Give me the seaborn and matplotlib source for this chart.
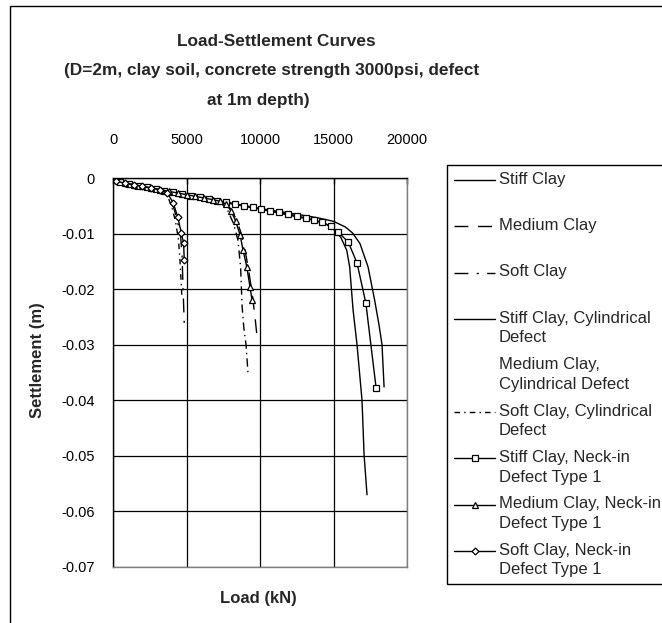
import matplotlib
matplotlib.use("Agg")
import matplotlib.pyplot as plt
from matplotlib.patches import Rectangle
import seaborn as sns
import pandas as pd
import numpy as np

sns.set_style("white")
plt.rcParams['font.family'] = ['Liberation Sans', 'DejaVu Sans']

# ---------------- data (load kN, settlement m) ----------------
stiff_load = [0, 2000, 4000, 6000, 8000, 10000, 12000, 14000, 15000, 15800, 16300, 16800, 17350, 17800, 18100, 18300, 18440]
stiff_set = [-0.0005, -0.0015, -0.0025, -0.0035, -0.0045, -0.0055, -0.0063, -0.0072, -0.0078, -0.0088, -0.0099, -0.0118, -0.0160, -0.0220, -0.0265, -0.0300, -0.0376]

medium_load = [0, 3000, 6000, 7500, 8000, 8400, 8750, 9000, 9250, 9500, 9680, 9800]
medium_set = [-0.0005, -0.0020, -0.0035, -0.0044, -0.0055, -0.0075, -0.0102, -0.0132, -0.0170, -0.0215, -0.0255, -0.0286]

soft_load = [0, 2000, 3400, 3800, 4150, 4400, 4600, 4700, 4750, 4800, 4850]
soft_set = [-0.0005, -0.0015, -0.0023, -0.0033, -0.0055, -0.0080, -0.0105, -0.0140, -0.0185, -0.0225, -0.0264]

stiff_cyl_load = [0, 2000, 4000, 6000, 8000, 10000, 12000, 13500, 14500, 15000, 15500, 15900, 16100, 16330, 16600, 16940, 17080, 17280]
stiff_cyl_set = [-0.0005, -0.0015, -0.0025, -0.0036, -0.0046, -0.0056, -0.0067, -0.0075, -0.0083, -0.0092, -0.0107, -0.0130, -0.0160, -0.0237, -0.0300, -0.0400, -0.0498, -0.0570]

medium_cyl_load = [0, 3000, 6000, 7300, 7800, 8200, 8500, 8680, 8780, 8900, 9050, 9180]
medium_cyl_set = [-0.0005, -0.0020, -0.0035, -0.0043, -0.0058, -0.0082, -0.0112, -0.0160, -0.0230, -0.0270, -0.0300, -0.0350]

soft_cyl_load = [0, 2000, 3300, 3700, 4000, 4250, 4450, 4550, 4620, 4680]
soft_cyl_set = [-0.0005, -0.0015, -0.0022, -0.0032, -0.0052, -0.0078, -0.0110, -0.0145, -0.0180, -0.0210]

stiff_neck_load = [500, 1100, 1700, 2300, 2900, 3500, 4100, 4700, 5300, 5900, 6500, 7100, 7700, 8300, 8900, 9500,
                   10100, 10700, 11300, 11900, 12500, 13100, 13700, 14250, 14800, 15300, 16000, 16600, 17200, 17900]
stiff_neck_set = [-0.0008, -0.0011, -0.0014, -0.0017, -0.0020, -0.0023, -0.0026, -0.0029, -0.0032, -0.0035, -0.0038,
                  -0.0041, -0.0044, -0.0047, -0.0050, -0.0053, -0.0056, -0.0059, -0.0062, -0.0065, -0.0068, -0.0072,
                  -0.0076, -0.0080, -0.0087, -0.0097, -0.0115, -0.0153, -0.0225, -0.0378]

medium_neck_load = [800, 1400, 2000, 2600, 3200, 3800, 4400, 5000, 5600, 6200, 6800, 7300, 7700, 8050, 8350, 8650, 8850, 9100, 9320, 9460]
medium_neck_set = [-0.0009, -0.0012, -0.0015, -0.0018, -0.0021, -0.0024, -0.0027, -0.0030, -0.0033, -0.0036, -0.0039,
                   -0.0042, -0.0047, -0.0060, -0.0078, -0.0103, -0.0130, -0.0160, -0.0196, -0.0220]

soft_neck_load = [200, 800, 1400, 2000, 2600, 3200, 3700, 4100, 4400, 4650, 4800, 4850]
soft_neck_set = [-0.0006, -0.0009, -0.0012, -0.0015, -0.0018, -0.0021, -0.0027, -0.0045, -0.0070, -0.0099, -0.0117, -0.0148]

series_names = ["Stiff Clay", "Medium Clay", "Soft Clay",
                "Stiff Clay, Cylindrical Defect", "Medium Clay, Cylindrical Defect", "Soft Clay, Cylindrical Defect",
                "Stiff Clay, Neck-in Defect Type 1", "Medium Clay, Neck-in Defect Type 1", "Soft Clay, Neck-in Defect Type 1"]
legend_labels = ["Stiff Clay\n ", "Medium Clay\n ", "Soft Clay\n ",
                 "Stiff Clay, Cylindrical\nDefect", "Medium Clay,\nCylindrical Defect", "Soft Clay, Cylindrical\nDefect",
                 "Stiff Clay, Neck-in\nDefect Type 1", "Medium Clay, Neck-in\nDefect Type 1", "Soft Clay, Neck-in\nDefect Type 1"]
series_data = [(stiff_load, stiff_set), (medium_load, medium_set), (soft_load, soft_set),
               (stiff_cyl_load, stiff_cyl_set), (medium_cyl_load, medium_cyl_set), (soft_cyl_load, soft_cyl_set),
               (stiff_neck_load, stiff_neck_set), (medium_neck_load, medium_neck_set), (soft_neck_load, soft_neck_set)]

x_ticks = [0, 5000, 10000, 15000, 20000]
x_tick_labels = ["0", "5000", "10000", "15000", "20000"]
y_ticks = [0, -0.01, -0.02, -0.03, -0.04, -0.05, -0.06, -0.07]
y_tick_labels = ["0", "-0.01", "-0.02", "-0.03", "-0.04", "-0.05", "-0.06", "-0.07"]

# ---------------- styles ----------------
styles = [
    dict(linestyle="-", marker=None),
    dict(linestyle=(0, (10, 7)), marker=None),
    dict(linestyle=(0, (10, 6, 1.5, 6)), marker=None),
    dict(linestyle="-", marker=None),
    dict(linestyle=(0, (6, 3, 1, 3)), marker=None),
    dict(linestyle=(0, (4, 3, 1, 3)), marker=None),
    dict(linestyle="-", marker="s", markersize=4.0),
    dict(linestyle="-", marker="^", markersize=4.5),
    dict(linestyle="-", marker="D", markersize=3.5),
]

fig = plt.figure(figsize=(6.62, 6.23), dpi=100)
ax = fig.add_axes([113 / 662, 1 - 567 / 623, 294 / 662, 389 / 623])

handles = []
for name, (xs, ys), st in zip(series_names, series_data, styles):
    df = pd.DataFrame({"Load": xs, "Settlement": ys})
    kw = dict(color="black", linewidth=1.0, linestyle=st["linestyle"])
    if st["marker"]:
        kw.update(marker=st["marker"], markersize=st["markersize"], markerfacecolor="white",
                  markeredgecolor="black", markeredgewidth=0.9)
    sns.lineplot(data=df, x="Load", y="Settlement", ax=ax, sort=False, estimator=None, label=name, **kw)
    handles.append(ax.get_lines()[-1])

ax.set_xlim(0, 20000)
ax.set_ylim(-0.07, 0)
ax.set_xticks(x_ticks)
ax.set_xticklabels(x_tick_labels)
ax.set_yticks(y_ticks)
ax.set_yticklabels(y_tick_labels)
ax.xaxis.tick_top()
ax.tick_params(axis="x", direction="in", length=4, width=1, pad=22, labelsize=10.5, colors="black")
ax.tick_params(axis="y", direction="out", length=5, width=1, pad=8, labelsize=10.5, colors="black")
ax.grid(True, color="black", linewidth=0.9)

for side in ["left", "top"]:
    ax.spines[side].set_color("black")
    ax.spines[side].set_linewidth(1)
for side in ["right", "bottom"]:
    ax.spines[side].set_color("#808080")
    ax.spines[side].set_linewidth(1)

ax.xaxis.set_label_position("bottom")
ax.set_xlabel("Load (kN)", fontsize=12, fontweight="bold", va="center")
ax.xaxis.set_label_coords((258 - 113) / 294, (567 - 599) / 389)
ax.set_ylabel("Settlement (m)", fontsize=12, fontweight="bold", va="center")
ax.yaxis.set_label_coords((38 - 113) / 294, (567 - 360) / 389)

title_kw = dict(ha="center", va="center", fontsize=12.4, fontweight="bold")
fig.text(276 / 662, 1 - 42 / 623, "Load-Settlement Curves", **title_kw)
fig.text(272 / 662, 1 - 71 / 623, "(D=2m, clay soil, concrete strength 3000psi, defect", **title_kw)
fig.text(258 / 662, 1 - 100 / 623, "at 1m depth)", **title_kw)

line_spacing = 1.38
leg = ax.legend(handles, legend_labels, loc="upper left", bbox_to_anchor=(447 / 662, 1 - 165 / 623),
                bbox_transform=fig.transFigure, frameon=True, fancybox=False, shadow=False, edgecolor="black",
                framealpha=1, fontsize=12, handlelength=2.5, handletextpad=0.2, borderpad=0.4,
                labelspacing=0.71, borderaxespad=0)
leg.get_frame().set_linewidth(1)
for t in leg.get_texts():
    t.set_linespacing(line_spacing)
# align each legend sample with the first text line
shift_pt = 6.5
for ln in leg.get_lines():
    ln.set_ydata(np.asarray(ln.get_ydata(), dtype=float) + shift_pt)
leg.get_lines()[4].set_visible(False)

fig.patches.append(Rectangle((10 / 662, -0.05), 1.2, (1 - 6 / 623) + 0.05, transform=fig.transFigure,
                             fill=False, edgecolor="black", linewidth=1))

fig.savefig("out.png", dpi=100)
